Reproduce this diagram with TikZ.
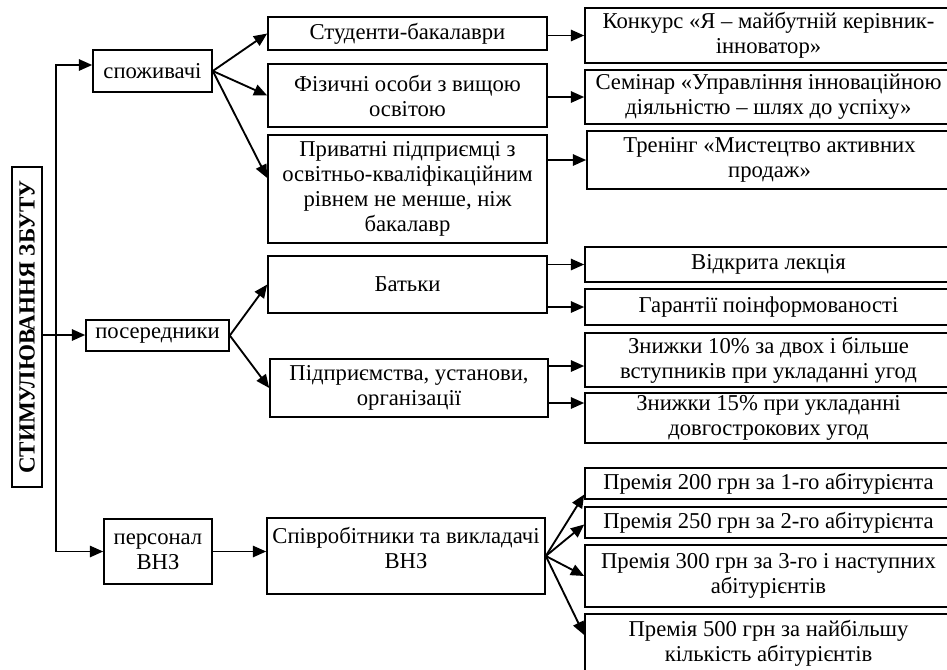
\documentclass[tikz,border=0pt]{standalone}
\usepackage{fontspec}
\setmainfont{Liberation Serif}
\usepackage{tikz}
\usetikzlibrary{arrows.meta,calc,positioning}

\begin{document}
\begin{tikzpicture}[x=0.75pt,y=-0.75pt,
  blk/.style={draw,line width=1.2pt,inner sep=0pt,align=center,
    font=\fontsize{17}{18.75}\selectfont},
  arr/.style={line width=1.4pt,-{Triangle[length=10pt,width=8.5pt]}}]
\clip (0,0) rectangle (947,669);
\node[blk,rotate=90,minimum width=240pt,minimum height=22.5pt,font=\fontsize{17.3}{18}\selectfont\bfseries](stim) at (27,327){СТИМУЛЮВАННЯ ЗБУТУ};
\node[blk,minimum width=89.25pt,minimum height=31.5pt](spozh) at (152.5,71){споживачі};
\node[blk,minimum width=107.25pt,minimum height=23.25pt](posered) at (157.5,335.5){посередники};
\node[blk,minimum width=81pt,minimum height=48.75pt](pers) at (158,551.5){персонал\\ВНЗ};
\node[blk,minimum width=209.25pt,minimum height=24.75pt](stud) at (407.5,33.5){Студенти-бакалаври};
\node[blk,minimum width=209.25pt,minimum height=47.25pt](fiz) at (407.5,95.5){Фізичні особи з вищою\\освітою};
\node[blk,minimum width=209.25pt,minimum height=81pt](pryv) at (407.5,189){Приватні підприємці з\\освітньо-кваліфікаційним\\рівнем не менше, ніж\\бакалавр};
\node[blk,minimum width=209.25pt,minimum height=42.75pt](batky) at (407.5,284.5){Батьки};
\node[blk,minimum width=208.5pt,minimum height=43.5pt](pidpr) at (409,388){Підприємства, установи,\\організації};
\node[blk,minimum width=208.5pt,minimum height=57pt](spivr) at (406,556){Співробітники та викладачі\\ВНЗ\\[-6pt]};
\node[blk,minimum width=275.25pt,minimum height=41.25pt](konk) at (768.5,35.5){Конкурс «Я – майбутній керівник-\\інноватор»};
\node[blk,minimum width=275.25pt,minimum height=40.5pt](semin) at (768.5,97){Семінар «Управління інноваційною\\діяльністю – шлях до успіху»};
\node[blk,minimum width=273.75pt,minimum height=43.5pt](trenin) at (769.5,160){Тренінг «Мистецтво активних\\продаж»};
\node[blk,minimum width=275.25pt,minimum height=26.25pt](lekc) at (768.5,264.5){Відкрита лекція};
\node[blk,minimum width=275.25pt,minimum height=27pt](garant) at (768.5,307){Гарантії поінформованості};
\node[blk,minimum width=275.25pt,minimum height=40.5pt](zn10) at (768.5,360){Знижки 10\% за двох і більше\\вступників при укладанні угод};
\node[blk,minimum width=275.25pt,minimum height=37.5pt](zn15) at (768.5,418){Знижки 15\% при укладанні\\довгострокових угод};
\node[blk,minimum width=275.25pt,minimum height=23.25pt](pr200) at (768.5,483.5){Премія 200 грн за 1-го абітурієнта};
\node[blk,minimum width=275.25pt,minimum height=23.25pt](pr250) at (768.5,522.5){Премія 250 грн за 2-го абітурієнта};
\node[blk,minimum width=275.25pt,minimum height=46.5pt](pr300) at (768.5,576){Премія 300 грн за 3-го і наступних\\абітурієнтів};
\node[blk,minimum width=275.25pt,minimum height=43.5pt](pr500) at (768.5,643){Премія 500 грн за найбільшу\\кількість абітурієнтів};
\coordinate (trunk) at (56,335);
\coordinate (p1) at ($(zn10.west)+(0,6)$);
\coordinate (p2) at ($(zn15.west)+(0,-15)$);
\draw[arr](trunk)|-($(spozh.west)+(0,-6)$);
\draw[arr](trunk)|-(pers.west);
\draw[arr](stim.south|-trunk)--(posered.west|-trunk);
\draw[arr](spozh.east)--(stud.west);
\draw[arr](spozh.east)--(fiz.west);
\draw[arr](spozh.east)--($(pryv.west)+(0,-11)$);
\draw[arr](posered.east)--(batky.west);
\draw[arr](posered.east)--(pidpr.west);
\draw[arr](pers.east)--(pers.east-|spivr.west);
\draw[arr](stud.east|-konk.west)--(konk.west);
\draw[arr](fiz.east|-semin.west)--(semin.west);
\draw[arr](pryv.east|-trenin.west)--(trenin.west);
\draw[arr](batky.east|-lekc.west)--(lekc.west);
\draw[arr](batky.east|-garant.west)--(garant.west);
\draw[arr](pidpr.east|-p1)--(p1);
\draw[arr](pidpr.east|-p2)--(p2);
\draw[arr](spivr.east)--($(pr200.west)+(0,11)$);
\draw[arr](spivr.east)--($(pr250.west)+(0,2)$);
\draw[arr](spivr.east)--(pr300.west);
\draw[arr](spivr.east)--($(pr500.west)+(0,-8)$);
\end{tikzpicture}
\end{document}
